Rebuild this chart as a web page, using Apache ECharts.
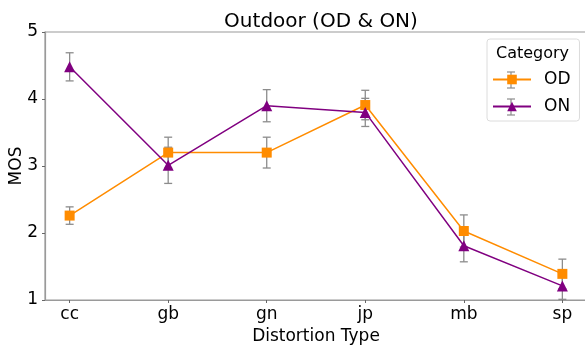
<!DOCTYPE html>
<html>
<head>
<meta charset="utf-8">
<script src="https://cdn.jsdelivr.net/npm/echarts@6/dist/echarts.min.js"></script>
<style>
  html, body { margin: 0; padding: 0; background: #fff; }
  #chart { width: 585px; height: 347px; }
</style>
</head>
<body>
<div id="chart"></div>
<script>
// distortion types on the x axis
const categories = ['cc', 'gb', 'gn', 'jp', 'mb', 'sp'];
// mean opinion scores with error (half-width) per category
const odMean = [2.26, 3.20, 3.20, 3.91, 2.03, 1.39];
const odErr = [0.13, 0.23, 0.23, 0.22, 0.24, 0.22];
const onMean = [4.48, 3.01, 3.90, 3.80, 1.81, 1.21];
const onErr = [0.21, 0.27, 0.24, 0.21, 0.24, 0.20];
const yTicks = [1, 2, 3, 4, 5];

const font = 'DejaVu Sans';
const spine = '#9a9a9a';
const errColor = '#8c8c8c';

// build [x, low, high] rows for the error bar series
function errRows(mean, err) {
  return mean.map((m, i) => [i, m - err[i], m + err[i]]);
}

function renderErr(params, api) {
  const lo = api.coord([api.value(0), api.value(1)]);
  const hi = api.coord([api.value(0), api.value(2)]);
  const cap = 4;
  const style = { stroke: errColor, lineWidth: 1.3 };
  return {
    type: 'group',
    children: [
      { type: 'line', shape: { x1: lo[0], y1: lo[1], x2: hi[0], y2: hi[1] }, style: style },
      { type: 'line', shape: { x1: lo[0] - cap, y1: lo[1], x2: lo[0] + cap, y2: lo[1] }, style: style },
      { type: 'line', shape: { x1: hi[0] - cap, y1: hi[1], x2: hi[0] + cap, y2: hi[1] }, style: style }
    ]
  };
}

// little error bar glyph drawn over a legend icon
function legendErr(cy) {
  const cx = 511, h = 8, c = 4;
  const st = { stroke: errColor, lineWidth: 1.2 };
  return {
    type: 'group', z: 200,
    children: [
      { type: 'line', shape: { x1: cx, y1: cy - h, x2: cx, y2: cy + h }, style: st },
      { type: 'line', shape: { x1: cx - c, y1: cy - h, x2: cx + c, y2: cy - h }, style: st },
      { type: 'line', shape: { x1: cx - c, y1: cy + h, x2: cx + c, y2: cy + h }, style: st }
    ]
  };
}

const chart = echarts.init(document.getElementById('chart'));
chart.setOption({
  animation: false,
  title: {
    text: 'Outdoor (OD & ON)',
    left: 316,
    textAlign: 'center',
    top: 7,
    textStyle: { fontFamily: font, fontSize: 20, fontWeight: 'normal', color: '#000' }
  },
  legend: {
    left: 487,
    top: 39,
    orient: 'vertical',
    padding: [32, 9, 6, 5],
    itemGap: 10,
    itemWidth: 38,
    itemHeight: 12,
    borderColor: '#dcdcdc',
    borderWidth: 1,
    borderRadius: 3,
    textStyle: { fontFamily: font, fontSize: 17, lineHeight: 17, color: '#000', padding: [0, 0, 0, 8] },
    data: ['OD', 'ON']
  },
  graphic: [
    {
      type: 'text',
      left: 496,
      top: 46,
      style: { text: 'Category', font: '16px "DejaVu Sans"', fill: '#000' }
    },
    legendErr(80),
    legendErr(107)
  ],
  grid: {
    left: 45, right: -2, top: 32, bottom: 47,
    containLabel: false,
    outerBoundsMode: 'none',
    show: true, borderColor: spine, borderWidth: 1.2
  },
  xAxis: {
    type: 'value',
    min: -0.25,
    max: 5.25,
    name: 'Distortion Type',
    nameLocation: 'middle',
    nameGap: 28,
    nameTextStyle: { fontFamily: font, fontSize: 17, color: '#000' },
    splitLine: { show: false },
    axisLine: { onZero: false, lineStyle: { color: spine, width: 1.2 } },
    axisTick: { customValues: [0, 1, 2, 3, 4, 5], length: 3, lineStyle: { color: '#666' } },
    axisLabel: {
      customValues: [0, 1, 2, 3, 4, 5],
      formatter: v => categories[Math.round(v)],
      fontFamily: font, fontSize: 17, color: '#000', margin: 6
    }
  },
  yAxis: {
    type: 'value',
    min: 1,
    max: 5,
    interval: 1,
    name: 'MOS',
    nameLocation: 'middle',
    nameGap: 20,
    nameMoveOverlap: false,
    nameTextStyle: { fontFamily: font, fontSize: 17, color: '#000' },
    splitLine: { show: false },
    axisLine: { show: true, onZero: false, lineStyle: { color: spine, width: 1.2 } },
    axisTick: { show: true, length: 3, lineStyle: { color: '#666' } },
    axisLabel: {
      formatter: v => (yTicks.includes(v) ? String(v) : ''),
      fontFamily: font, fontSize: 17, color: '#000', margin: 7
    }
  },
  series: [
    {
      name: 'OD',
      type: 'line',
      data: odMean.map((v, i) => [i, v]),
      symbol: 'rect',
      symbolSize: 10,
      itemStyle: { color: '#ff8c00' },
      lineStyle: { color: '#ff8c00', width: 1.5 },
      z: 3
    },
    {
      name: 'ON',
      type: 'line',
      data: onMean.map((v, i) => [i, v]),
      symbol: 'triangle',
      symbolSize: 11,
      itemStyle: { color: '#800080' },
      lineStyle: { color: '#800080', width: 1.5 },
      z: 3
    },
    {
      name: 'OD err',
      type: 'custom',
      renderItem: renderErr,
      data: errRows(odMean, odErr),
      encode: { x: 0, y: [1, 2] },
      z: 2
    },
    {
      name: 'ON err',
      type: 'custom',
      renderItem: renderErr,
      data: errRows(onMean, onErr),
      encode: { x: 0, y: [1, 2] },
      z: 2
    }
  ]
});
</script>
</body>
</html>
